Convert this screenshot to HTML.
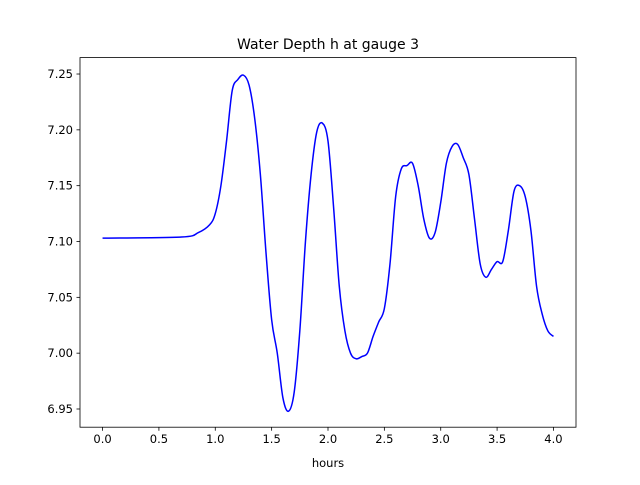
<!DOCTYPE html>
<html><head><meta charset="utf-8"><style>
html,body{margin:0;padding:0;background:#fff;}
svg text{font-family:"DejaVu Sans","Liberation Sans",sans-serif;fill:#000;}
</style></head><body>
<svg width="640" height="480" xmlns="http://www.w3.org/2000/svg">
<rect x="0" y="0" width="640" height="480" fill="#fff"/>
<g id="plot"></g>
<text x="328" y="49" text-anchor="middle" font-size="14">Water Depth h at gauge 3</text>
<text x="328" y="467" text-anchor="middle" font-size="11.5">hours</text>
</svg>
<script>
const times = [0.0,0.7,0.85,0.95,1.0,1.05,1.1,1.15,1.2,1.25,1.3,1.35,1.4,1.45,1.5,1.55,1.6,1.65,1.7,1.75,1.8,1.85,1.9,1.95,2.0,2.05,2.1,2.15,2.2,2.25,2.3,2.35,2.4,2.45,2.5,2.55,2.6,2.65,2.7,2.75,2.8,2.85,2.9,2.95,3.0,3.05,3.1,3.15,3.2,3.25,3.3,3.35,3.4,3.45,3.5,3.55,3.6,3.65,3.7,3.75,3.8,3.85,3.9,3.95,4.0];
const depth = [7.103,7.104,7.108,7.115,7.125,7.15,7.19,7.235,7.245,7.249,7.24,7.21,7.16,7.09,7.03,7.0,6.96,6.948,6.965,7.02,7.1,7.16,7.198,7.206,7.19,7.13,7.06,7.02,7.0,6.995,6.997,7.0,7.015,7.028,7.04,7.08,7.14,7.165,7.168,7.17,7.15,7.12,7.103,7.108,7.135,7.17,7.185,7.187,7.175,7.16,7.12,7.08,7.068,7.075,7.082,7.082,7.11,7.145,7.15,7.14,7.11,7.06,7.035,7.02,7.015];
const xTicks = [0.0,0.5,1.0,1.5,2.0,2.5,3.0,3.5,4.0];
const xTickLabels = ["0.0","0.5","1.0","1.5","2.0","2.5","3.0","3.5","4.0"];
const yTicks = [6.95,7.00,7.05,7.10,7.15,7.20,7.25];
const yTickLabels = ["6.95","7.00","7.05","7.10","7.15","7.20","7.25"];

const L=80,R=576,T=57.6,B=427.2;
const xMin=-0.2,xMax=4.2,yMin=6.9337,yMax=7.2647;
const sx=v=>L+(v-xMin)/(xMax-xMin)*(R-L);
const sy=v=>B-(v-yMin)/(yMax-yMin)*(B-T);
const NS="http://www.w3.org/2000/svg";
const g=document.getElementById('plot');
function mk(tag,attrs){const e=document.createElementNS(NS,tag);for(const k in attrs)e.setAttribute(k,attrs[k]);g.appendChild(e);return e;}

const pts=times.map((t,i)=>[sx(t),sy(depth[i])]);
let d="M"+pts[0][0].toFixed(2)+","+pts[0][1].toFixed(2);
for(let i=0;i<pts.length-1;i++){
  const p0=pts[Math.max(0,i-1)],p1=pts[i],p2=pts[i+1],p3=pts[Math.min(pts.length-1,i+2)];
  const c1=[p1[0]+(p2[0]-p0[0])/6,p1[1]+(p2[1]-p0[1])/6];
  const c2=[p2[0]-(p3[0]-p1[0])/6,p2[1]-(p3[1]-p1[1])/6];
  d+=" C"+c1.map(v=>v.toFixed(2)).join(",")+" "+c2.map(v=>v.toFixed(2)).join(",")+" "+p2.map(v=>v.toFixed(2)).join(",");
}
const line=mk('path',{d:d,fill:'none',stroke:'#0000ff','stroke-width':1.5});



const frame=mk('rect',{x:L,y:T,width:R-L,height:B-T,fill:'none',stroke:'#000','stroke-width':0.8});



xTicks.forEach((v,i)=>{
  const x=sx(v);
  const tk=mk('line',{x1:x,x2:x,y1:B,y2:B+3.5,stroke:'#000','stroke-width':0.8});
  
  
  const tx=mk('text',{x:x,y:B+16,'text-anchor':'middle','font-size':11.5});
  tx.textContent=xTickLabels[i];
  
  
});
yTicks.forEach((v,i)=>{
  const y=sy(v);
  const tk=mk('line',{x1:L-3.5,x2:L,y1:y,y2:y,stroke:'#000','stroke-width':0.8});
  
  
  const tx=mk('text',{x:L-7,y:y+4,'text-anchor':'end','font-size':11.5});
  tx.textContent=yTickLabels[i];
  
  
});
</script>
</body></html>
